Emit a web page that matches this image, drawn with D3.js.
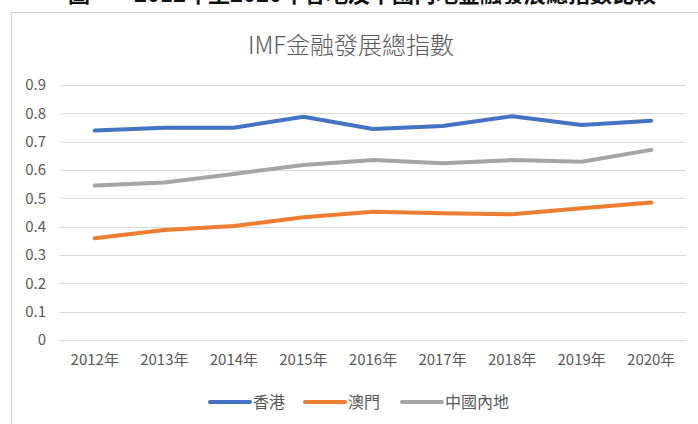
<!DOCTYPE html>
<html>
<head>
<meta charset="utf-8">
<script src="https://cdn.jsdelivr.net/npm/d3@7"></script>
<style>
  body { margin: 0; background: #fff; }
  svg { display: block; font-family: "Noto Sans CJK TC", "Noto Sans", sans-serif; }
</style>
</head>
<body>
<svg id="chart1" width="698" height="424"></svg>
<script>
const years = ["2012年", "2013年", "2014年", "2015年", "2016年", "2017年", "2018年", "2019年", "2020年"];
const hongKong = [0.739, 0.749, 0.749, 0.788, 0.745, 0.755, 0.790, 0.759, 0.774];
const macau = [0.359, 0.388, 0.402, 0.433, 0.453, 0.447, 0.444, 0.465, 0.485];
const mainland = [0.545, 0.556, 0.586, 0.618, 0.635, 0.624, 0.635, 0.629, 0.671];
const yTicks = [0, 0.1, 0.2, 0.3, 0.4, 0.5, 0.6, 0.7, 0.8, 0.9];

const series = [
  { name: "香港", values: hongKong, color: "#4472C4" },
  { name: "澳門", values: macau, color: "#ED7D31" },
  { name: "中國內地", values: mainland, color: "#A5A5A5" },
];

const margin = { top: 85, right: 12, bottom: 84, left: 60 };
const width = 698;
const height = 424;

const svg = d3.select("#chart1");

// caption of the page above the chart, only its lower edge shows
svg.append("text")
  .attr("x", 362)
  .attr("y", 2)
  .attr("text-anchor", "middle")
  .attr("font-size", 22)
  .attr("font-weight", "bold")
  .attr("fill", "#111")
  .text("圖一　2012年至2020年各地及中國內地金融發展總指數比較");

// chart frame
svg.append("rect")
  .attr("x", 11.5)
  .attr("y", 12.5)
  .attr("width", 690)
  .attr("height", 430)
  .attr("fill", "#fff")
  .attr("stroke", "#D0D0D0");

svg.append("text")
  .attr("x", 351)
  .attr("y", 54)
  .attr("text-anchor", "middle")
  .attr("font-size", 24)
  .attr("font-weight", 300)
  .attr("fill", "#595959")
  .text("IMF金融發展總指數");

const x = d3.scaleBand()
  .domain(years)
  .range([margin.left, width - margin.right]);
const y = d3.scaleLinear()
  .domain([0, 0.9])
  .range([height - margin.bottom, margin.top]);

// gridlines
svg.append("g")
  .selectAll("line")
  .data(yTicks)
  .join("line")
  .attr("x1", margin.left)
  .attr("x2", 686)
  .attr("y1", (d) => Math.round(y(d)) + 0.5)
  .attr("y2", (d) => Math.round(y(d)) + 0.5)
  .attr("stroke", "#D9D9D9")
  .attr("stroke-width", 1.2);

const yAxis = (g) =>
  g
  .call(d3.axisLeft(y).tickValues(yTicks).tickFormat((d) => d === 0 ? "0" : d3.format(".1f")(d)).tickSize(0).tickPadding(0))
  .call((g) => g.select(".domain").remove());

svg.append("g")
  .attr("transform", "translate(46,0)")
  .call(yAxis)
  .call((g) => g.selectAll("text")
    .attr("font-size", 15)
    .attr("fill", "#595959")
    .attr("font-family", "\"Noto Sans CJK TC\", sans-serif"));

const xAxis = (g) =>
  g
  .call(d3.axisBottom(x).tickSize(0).tickPadding(14))
  .call((g) => g.select(".domain").remove());

svg.append("g")
  .attr("transform", `translate(0,${height - margin.bottom})`)
  .call(xAxis)
  .call((g) => g.selectAll("text")
    .attr("font-size", 15)
    .attr("fill", "#595959")
    .attr("font-family", "\"Noto Sans CJK TC\", sans-serif"));

const line = d3.line()
  .x((d, i) => x(years[i]) + x.bandwidth() / 2)
  .y((d) => y(d));

svg.append("g")
  .selectAll("path")
  .data(series)
  .join("path")
  .attr("d", (d) => line(d.values))
  .attr("fill", "none")
  .attr("stroke", (d) => d.color)
  .attr("stroke-width", 4)
  .attr("stroke-linejoin", "round")
  .attr("stroke-linecap", "round");

// legend
const legendX = [210, 305, 402];
const legend = svg.append("g")
  .selectAll("g")
  .data(series)
  .join("g")
  .attr("transform", (d, i) => `translate(${legendX[i]},402)`);

legend.append("line")
  .attr("x1", 0)
  .attr("x2", 40)
  .attr("stroke", (d) => d.color)
  .attr("stroke-width", 4)
  .attr("stroke-linecap", "round");

legend.append("text")
  .attr("x", 43)
  .attr("dy", "0.36em")
  .attr("font-size", 16)
  .attr("fill", "#595959")
  .text((d) => d.name);
</script>
</body>
</html>
